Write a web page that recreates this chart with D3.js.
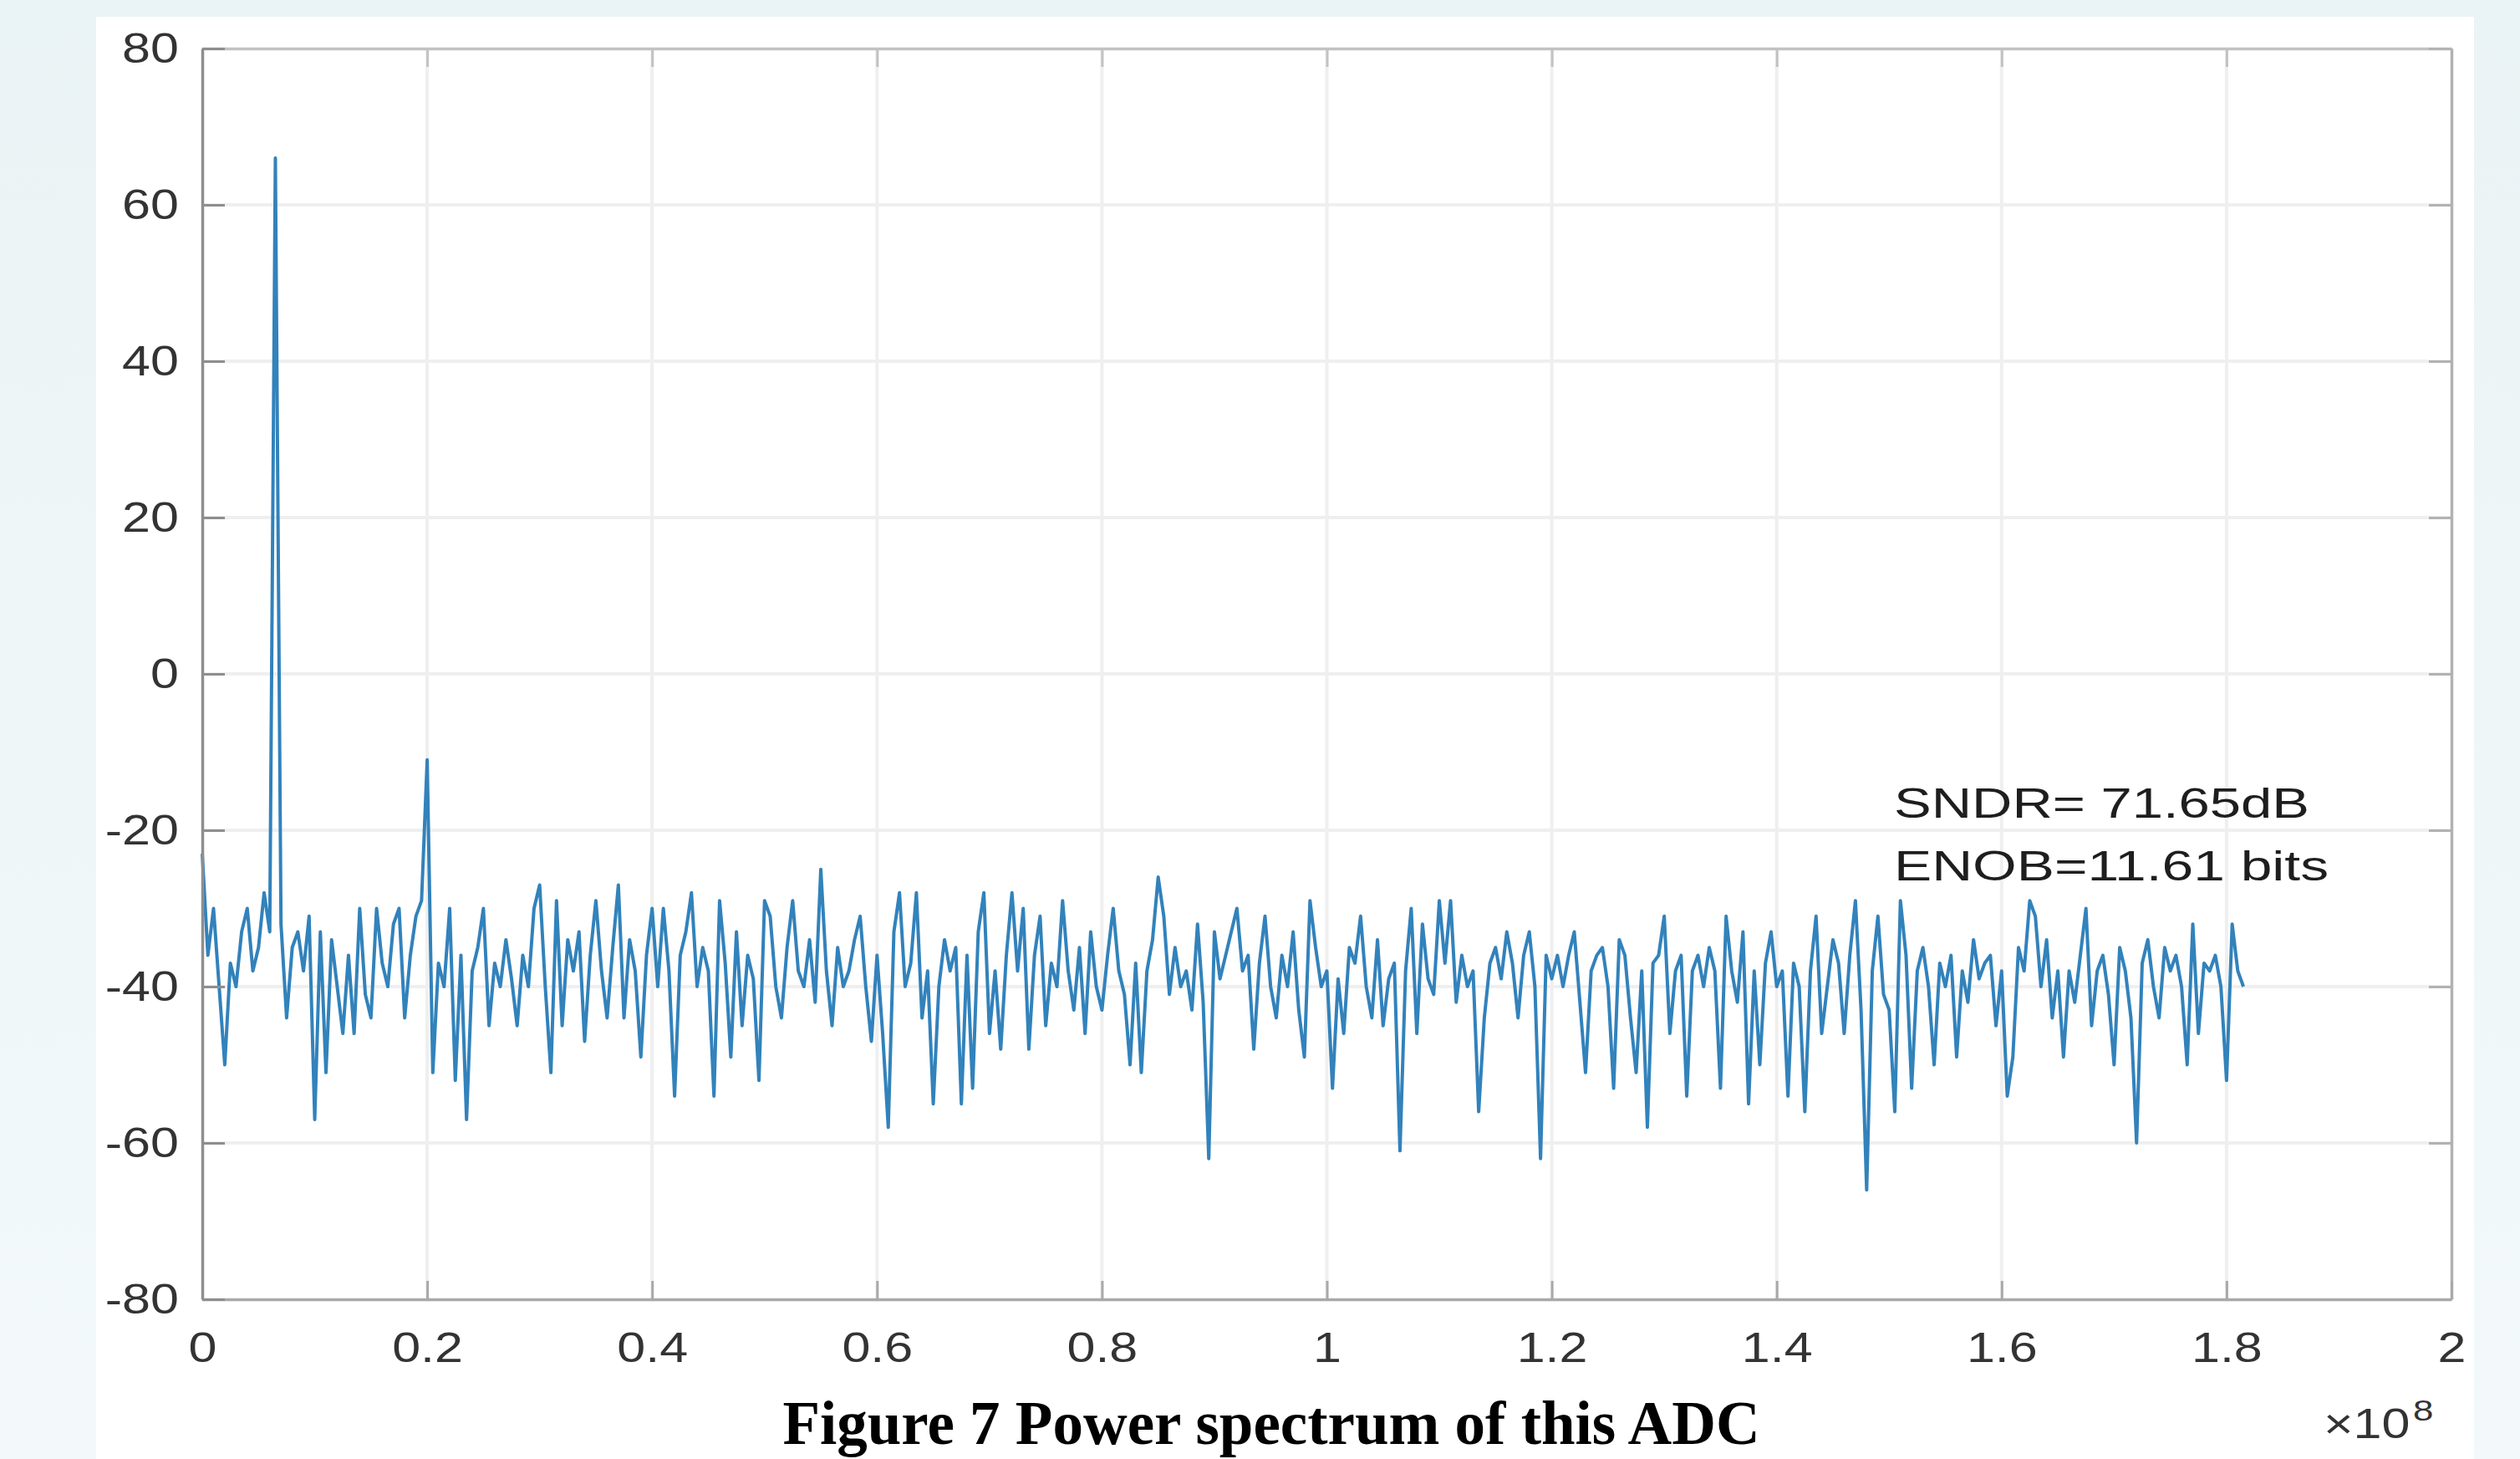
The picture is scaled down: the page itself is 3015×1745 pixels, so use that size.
<!DOCTYPE html>
<html><head><meta charset="utf-8">
<script src="https://cdn.jsdelivr.net/npm/d3@7/dist/d3.min.js"></script>
<style>html,body{margin:0;padding:0;background:#eef6f7;} svg{display:block}</style>
</head><body>
<svg id="chart" width="3015" height="1745"></svg>
<script>
// ---------------- data ----------------
const binWidthHz = 0.5e6; // FFT bin spacing
const powerDb = [
 -23,-36,-30,-40,-50,-37,-40,-33,-30,-38,
 -35,-28,-33, 66,-32,-44,-35,-33,-38,-31,
 -57,-33,-51,-34,-40,-46,-36,-46,-30,-41,
 -44,-30,-37,-40,-32,-30,-44,-36,-31,-29,
 -11,-51,-37,-40,-30,-52,-36,-57,-38,-35,
 -30,-45,-37,-40,-34,-39,-45,-36,-40,-30,
 -27,-40,-51,-29,-45,-34,-38,-33,-47,-36,
 -29,-38,-44,-35,-27,-44,-34,-38,-49,-36,
 -30,-40,-30,-38,-54,-36,-33,-28,-40,-35,
 -38,-54,-29,-37,-49,-33,-45,-36,-39,-52,
 -29,-31,-40,-44,-35,-29,-38,-40,-34,-42,
 -25,-38,-45,-35,-40,-38,-34,-31,-40,-47,
 -36,-46,-58,-33,-28,-40,-37,-28,-44,-38,
 -55,-40,-34,-38,-35,-55,-36,-53,-33,-28,
 -46,-38,-48,-36,-28,-38,-30,-48,-36,-31,
 -45,-37,-40,-29,-38,-43,-35,-46,-33,-40,
 -43,-36,-30,-38,-41,-50,-37,-51,-38,-34,
 -26,-31,-41,-35,-40,-38,-43,-32,-42,-62,
 -33,-39,-36,-33,-30,-38,-36,-48,-37,-31,
 -40,-44,-36,-40,-33,-43,-49,-29,-35,-40,
 -38,-53,-39,-46,-35,-37,-31,-40,-44,-34,
 -45,-39,-37,-61,-38,-30,-46,-32,-39,-41,
 -29,-37,-29,-42,-36,-40,-38,-56,-44,-37,
 -35,-39,-33,-37,-44,-36,-33,-40,-62,-36,
 -39,-36,-40,-36,-33,-42,-51,-38,-36,-35,
 -40,-53,-34,-36,-44,-51,-38,-58,-37,-36,
 -31,-46,-38,-36,-54,-38,-36,-40,-35,-38,
 -53,-31,-38,-42,-33,-55,-38,-50,-37,-33,
 -40,-38,-54,-37,-40,-56,-38,-31,-46,-40,
 -34,-37,-46,-36,-29,-43,-66,-38,-31,-41,
 -43,-56,-29,-36,-53,-38,-35,-40,-50,-37,
 -40,-36,-49,-38,-42,-34,-39,-37,-36,-45,
 -38,-54,-49,-35,-38,-29,-31,-40,-34,-44,
 -38,-49,-38,-42,-36,-30,-45,-38,-36,-41,
 -50,-35,-38,-44,-60,-37,-34,-40,-44,-35,
 -38,-36,-40,-50,-32,-46,-37,-38,-36,-40,
 -52,-32,-38,-40
];
const xTickValues = [0, 0.2e8, 0.4e8, 0.6e8, 0.8e8, 1e8, 1.2e8, 1.4e8, 1.6e8, 1.8e8, 2e8];
const xTickLabels = ["0","0.2","0.4","0.6","0.8","1","1.2","1.4","1.6","1.8","2"];
const yTickValues = [-80,-60,-40,-20,0,20,40,60,80];
const yTickLabels = ["-80","-60","-40","-20","0","20","40","60","80"];
const xExponentBase = "\u00d710";
const xExponent = "8";
const annotationLines = ["SNDR= 71.65dB", "ENOB=11.61 bits"];
const captionText = "Figure 7 Power spectrum of this ADC";

// ---------------- drawing ----------------
const W = 3015, H = 1745;
const plot = {left: 242, top: 58, right: 2933, bottom: 1554};
const sx = 1.22; // horizontal stretch of the original figure's text
const font = "'Liberation Sans', Arial, Helvetica, sans-serif";

const svg = d3.select("#chart");
const defs = svg.append("defs");
const grad = defs.append("linearGradient").attr("id","bg").attr("x1","0").attr("y1","0").attr("x2","0").attr("y2","1");
grad.append("stop").attr("offset","0").attr("stop-color","#eaf3f5");
grad.append("stop").attr("offset","1").attr("stop-color","#f3f9fa");
svg.append("rect").attr("width",W).attr("height",H).attr("fill","url(#bg)");
svg.append("rect").attr("x",115).attr("y",20).attr("width",2845).attr("height",H-20).attr("fill","#ffffff");

const x = d3.scaleLinear().domain([0, 2e8]).range([plot.left, plot.right]);
const y = d3.scaleLinear().domain([-80, 80]).range([plot.bottom, plot.top]);

// grid
const grid = svg.append("g").attr("stroke","#efefef").attr("stroke-width",4);
grid.selectAll("line.gx").data(xTickValues.slice(1,-1)).join("line").attr("class","gx")
  .attr("x1",d=>x(d)).attr("x2",d=>x(d)).attr("y1",plot.top).attr("y2",plot.bottom);
grid.selectAll("line.gy").data(yTickValues.slice(1,-1)).join("line").attr("class","gy")
  .attr("y1",d=>y(d)).attr("y2",d=>y(d)).attr("x1",plot.left).attr("x2",plot.right);

// spectrum line
const line = d3.line().x((d,i)=>x(i*binWidthHz)).y(d=>y(d));
svg.append("path").datum(powerDb).attr("d",line)
  .attr("fill","none").attr("stroke","#3282bb").attr("stroke-width",4).attr("stroke-linejoin","round");

function styleAxis(g, color){
  g.select(".domain").attr("stroke",color).attr("stroke-width",3.5);
  g.selectAll(".tick line").attr("stroke",color).attr("stroke-width",3);
  g.selectAll(".tick text").attr("fill","#333").attr("font-size",50).attr("font-family",font)
    .attr("transform",`scale(${sx},1)`);
}

// top and right (box) axes
const topAx = svg.append("g").attr("transform",`translate(0,${plot.top})`)
  .call(d3.axisTop(x).tickValues(xTickValues).tickSizeInner(-22).tickSizeOuter(0).tickFormat(""));
styleAxis(topAx,"#c2c2c2");
const rightAx = svg.append("g").attr("transform",`translate(${plot.right},0)`)
  .call(d3.axisRight(y).tickValues(yTickValues).tickSizeInner(-27).tickSizeOuter(0).tickFormat(""));
styleAxis(rightAx,"#b2b2b2");

// bottom axis
const botAx = svg.append("g").attr("transform",`translate(0,${plot.bottom})`)
  .call(d3.axisBottom(x).tickValues(xTickValues).tickSizeInner(-22).tickSizeOuter(0).tickPadding(40)
    .tickFormat((d,i)=>xTickLabels[i]));
styleAxis(botAx,"#a9a9a9");

// left axis
const leftAx = svg.append("g").attr("transform",`translate(${plot.left},0)`)
  .call(d3.axisLeft(y).tickValues(yTickValues).tickSizeInner(-27).tickSizeOuter(0).tickPadding(23)
    .tickFormat((d,i)=>yTickLabels[i]));
styleAxis(leftAx,"#8e8e8e");

// exponent label
svg.append("text").attr("transform",`translate(2780,1720) scale(${sx},1)`)
  .attr("font-family",font).attr("font-size",50).attr("fill","#333").text(xExponentBase);
svg.append("text").attr("transform",`translate(2887,1699) scale(${sx},1)`)
  .attr("font-family",font).attr("font-size",36).attr("fill","#333").text(xExponent);

// annotation
const annoBase = [978, 1053];
const annoWidth = [497, 520];
svg.selectAll("text.anno").data(annotationLines).join("text").attr("class","anno")
  .attr("x",2266).attr("y",(d,i)=>annoBase[i])
  .attr("font-family",font).attr("font-size",50).attr("fill","#1e1e1e")
  .attr("textLength",(d,i)=>annoWidth[i]).attr("lengthAdjust","spacingAndGlyphs")
  .text(d=>d);

// caption
svg.append("text").attr("x",1521).attr("y",1727).attr("text-anchor","middle")
  .attr("font-family","'Liberation Serif','Times New Roman',serif").attr("font-weight","bold")
  .attr("font-size",73).attr("fill","#000").text(captionText);
</script>
</body></html>
